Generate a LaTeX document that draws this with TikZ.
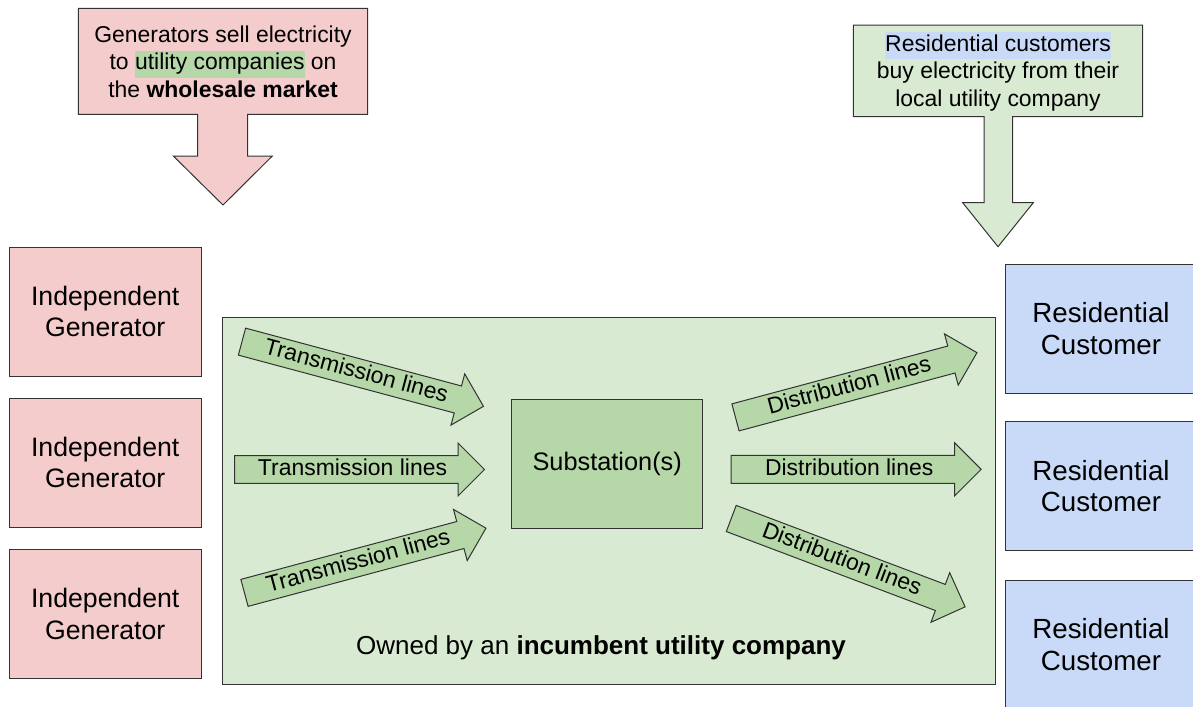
\documentclass[tikz,border=0pt]{standalone}
\usepackage{fontspec}
\setmainfont{Liberation Sans}
\usepackage{xcolor}
\usepackage{tikz}
\usetikzlibrary{shapes.arrows}
\definecolor{genPink}{HTML}{F4CCCC}
\definecolor{utilGreen}{HTML}{D9EAD3}
\definecolor{lineGreen}{HTML}{B6D7A8}
\definecolor{custBlue}{HTML}{C9DAF8}
\definecolor{edgeGray}{HTML}{333333}
\newcommand{\hilite}[2]{{\setlength{\fboxsep}{0pt}\colorbox{#1}{\strut #2}}}

\begin{document}
\begin{tikzpicture}[x=0.75pt,y=-0.75pt,
  genbox/.style={draw=edgeGray,line width=0.75pt,fill=genPink,minimum width=143.8pt,minimum height=96.5pt,align=center,font=\fontsize{20}{23.5}\selectfont},
  custbox/.style={genbox,fill=custBlue,font=\fontsize{20.8}{23.5}\selectfont},
  utilbox/.style={draw=edgeGray,line width=0.75pt,fill=utilGreen,minimum width=580pt,minimum height=275pt},
  substbox/.style={draw=edgeGray,line width=0.75pt,fill=lineGreen,minimum width=143.2pt,minimum height=96.3pt,font=\fontsize{19}{22}\selectfont},
  callout/.style={draw=edgeGray,line width=0.75pt,line join=miter},
  notetext/.style={align=center,inner sep=0pt,font=\fontsize{17.2}{20.6}\selectfont},
  linearrow/.style={single arrow,draw=edgeGray,line width=0.75pt,fill=lineGreen,anchor=tail,
    inner xsep=2pt,inner ysep=2.1pt,text height=12.5pt,text depth=3.5pt,
    single arrow head extend=9.4pt,single arrow tip angle=90,minimum height=187.5pt,
    font=\fontsize{17.2}{19}\selectfont}]
\useasboundingbox (0,0) rectangle (1193,707);
% 1) Callouts
\draw[callout,fill=genPink] (78.3,8.3) -- (367.7,8.3) -- (367.7,114.3) -- (247.7,114.3) -- (247.7,156) -- (272.3,156)
  -- (223,205) -- (173.3,156) -- (197.7,156) -- (197.7,114.3) -- (78.3,114.3) -- cycle;
\node[notetext] (wsnote) at (223,61.8) {Generators sell electricity\\to \hilite{lineGreen}{utility companies} on\\the \textbf{wholesale market}};
\draw[callout,fill=utilGreen] (853.3,25) -- (1142.7,25) -- (1142.7,116.7) -- (1012.7,116.7) -- (1012.7,202.7) -- (1033.3,202.7)
  -- (998,246.7) -- (962.7,202.7) -- (984,202.7) -- (984,116.7) -- (853.3,116.7) -- cycle;
\node[notetext] (rcnote) at (998,71.3) {\hilite{custBlue}{Residential customers}\\buy electricity from their\\local utility company};
% 2) Generators
\node[genbox] (gen1) at (105.2,311.7) {Independent\\Generator};
\node[genbox] (gen2) at (105.2,462.7) {Independent\\Generator};
\node[genbox] (gen3) at (105.2,613.8) {Independent\\Generator};
% 3) Utility company
\node[utilbox] (util) at (609,501.1) {};
\node[font=\fontsize{19.5}{23}\selectfont] (owned) at (601,648) {Owned by an \textbf{incumbent utility company}};
\node[substbox] (subst) at (607.2,464) {Substation(s)};
\node[linearrow,rotate=-15] (tr1) at (241.5,341.5) {Transmission lines};
\node[linearrow] (tr2) at (234,469.5) {Transmission lines};
\node[linearrow,rotate=15] (tr3) at (244,593) {Transmission lines};
\node[linearrow,rotate=15] (di1) at (735,417.5) {Distribution lines};
\node[linearrow] (di2) at (730.7,469.3) {Distribution lines};
\node[linearrow,rotate=-20.7] (di3) at (730.8,518.3) {Distribution lines};
% 4) Customers
\node[custbox] (cust1) at (1101,328.7) {Residential\\Customer};
\node[custbox] (cust2) at (1101,486.2) {Residential\\Customer};
\node[custbox] (cust3) at (1101,644.5) {Residential\\Customer};
\end{tikzpicture}
\end{document}
